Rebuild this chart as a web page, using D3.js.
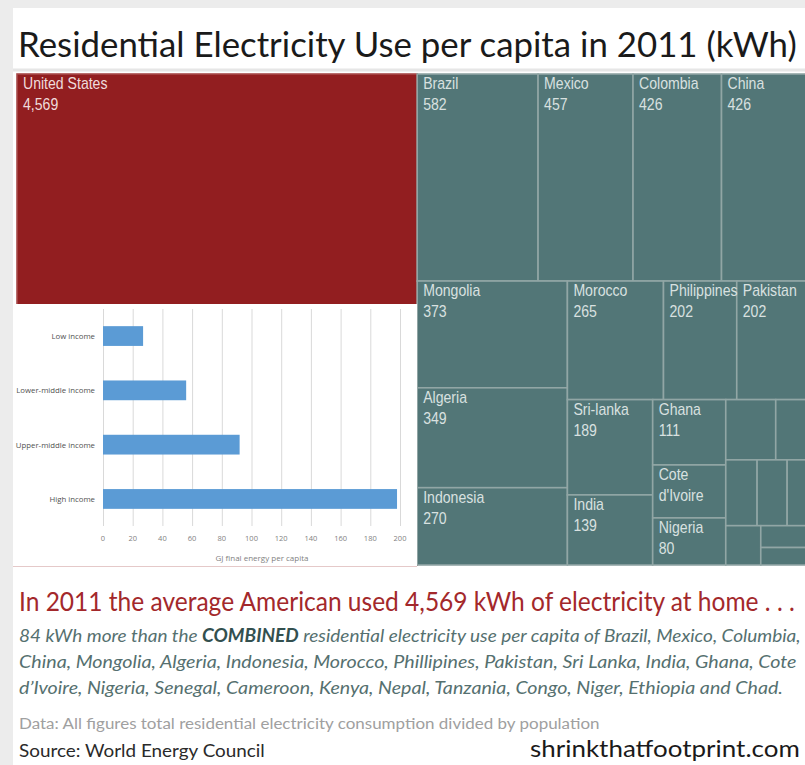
<!DOCTYPE html>
<html><head><meta charset="utf-8">
<script src="https://cdn.jsdelivr.net/npm/d3@7"></script>
<style>body{margin:0;background:#ececec;overflow:hidden}</style>
</head><body>
<svg id="c" width="805" height="765"></svg>
<script>
// ---------- data ----------
const title = "Residential Electricity Use per capita in 2011 (kWh)";
const countries = ["United States","Brazil","Mexico","Colombia","China","Mongolia","Algeria","Indonesia",
  "Morocco","Philippines","Pakistan","Sri-lanka","India","Ghana","Cote d'Ivoire","Nigeria",
  "Senegal","Cameroon","Kenya","Nepal","Tanzania","Chad","Congo","Niger","Ethiopia"];
const kwh = [4569,582,457,426,426,373,349,270,265,202,202,189,139,111,90,80,70,48,48,46,32,3,32,25,20];
const labelledCountries = countries.slice(0, 16);
// grouping of the treemap cells: "x" = side by side, "y" = stacked
const tiling = ["x", "United States",
  ["y", ["x","Brazil","Mexico","Colombia","China"],
        ["x", ["y","Mongolia","Algeria","Indonesia"],
              ["y", ["x","Morocco","Philippines","Pakistan"],
                    ["x", ["y","Sri-lanka","India"],
                          ["y","Ghana","Cote d'Ivoire","Nigeria"],
                          ["y", ["x","Senegal","Cameroon"],
                                ["x","Kenya","Nepal","Tanzania","Chad"],
                                ["x","Congo",["y","Niger","Ethiopia"]]]]]]]];

const incomeGroups = ["Low income","Lower-middle income","Upper-middle income","High income"];
const gjPerCapita = [27,56,92,198];
const gjTicks = [0,20,40,60,80,100,120,140,160,180,200];
const gjAxisTitle = "GJ final energy per capita";

const headline = "In 2011 the average American used 4,569 kWh of electricity at home . . .";
const para1a = "84 kWh more than the ", para1b = "COMBINED", para1c = " residential electricity use per capita of Brazil, Mexico, Columbia,";
const para2 = "China, Mongolia, Algeria, Indonesia, Morocco, Phillipines, Pakistan, Sri Lanka, India, Ghana, Cote";
const para3 = "d\u2019Ivoire, Nigeria, Senegal, Cameroon, Kenya, Nepal, Tanzania, Congo, Niger, Ethiopia and Chad.";
const dataNote = "Data: All figures total residential electricity consumption divided by population";
const source = "Source: World Energy Council";
const site = "shrinkthatfootprint.com";

// ---------- drawing ----------
const svg = d3.select("#c");
const font = "'Liberation Sans Narrow','Lato','Open Sans',sans-serif";
svg.append("rect").attr("width",805).attr("height",765).attr("fill","#ececec");
svg.append("rect").attr("x",13).attr("y",8).attr("width",792).attr("height",757).attr("fill","#ffffff");
svg.append("line").attr("x1",13).attr("x2",805).attr("y1",70).attr("y2",70).attr("stroke","#e6e6e6").attr("stroke-width",3);

// text fitted to a target width by horizontal scaling
function fitText(x, y, target, size, fill, style, build){
  const g = svg.append("g");
  const t = g.append("text").attr("x",0).attr("y",0).attr("font-family",font).attr("font-size",size)
    .attr("fill",fill).attr("font-style",style || "normal");
  build(t);
  const nat = t.node().getComputedTextLength();
  g.attr("transform",`translate(${x},${y}) scale(${target/nat},1)`);
  return g;
}

fitText(18, 57, 779, 34, "#1a1a1a", null, t => t.text(title));

// treemap
const valueOf = new Map(countries.map((c,i)=>[c,kwh[i]]));
function toNode(t){
  if (typeof t === "string") return {name:t, value:valueOf.get(t)};
  return {dir:t[0], children:t.slice(1).map(toNode)};
}
const root = d3.hierarchy(toNode(tiling)).sum(d => d.value || 0);
d3.treemap().size([793,491])
  .tile((node,x0,y0,x1,y1) => (node.data.dir === "x" ? d3.treemapDice : d3.treemapSlice)(node,x0,y0,x1,y1))(root);

const tm = svg.append("g").attr("transform","translate(17,74)");
const leaves = root.leaves();
tm.selectAll("rect").data(leaves).join("rect")
  .attr("x",d=>d.x0).attr("y",d=>d.y0).attr("width",d=>d.x1-d.x0).attr("height",d=>d.y1-d.y0)
  .attr("fill",d=>d.data.name==="United States" ? "#921e20" : "#527677")
  .attr("stroke",d=>d.data.name==="United States" ? "#a84a4a" : "#91a6a5").attr("stroke-width",1.6);

const sx = 0.88, fs = 16;
const measure = svg.append("text").attr("font-family","'Liberation Sans',Arial,sans-serif").attr("font-size",fs).attr("visibility","hidden");
function textW(s){ measure.text(s); return measure.node().getComputedTextLength()*sx; }
leaves.filter(d => labelledCountries.includes(d.data.name)).forEach(d => {
  const w = d.x1 - d.x0 - 8, h = d.y1 - d.y0;
  const words = d.data.name.split(" ");
  const lines = [];
  let cur = "";
  words.forEach(wd => {
    const t = cur ? cur + " " + wd : wd;
    if (cur && textW(t) > w) { lines.push(cur); cur = wd; } else cur = t;
  });
  lines.push(cur);
  lines.push(d3.format(",")(d.data.value));
  const g = tm.append("g").attr("transform",`translate(${d.x0+6},${d.y0}) scale(${sx},1)`);
  lines.forEach((ln,i) => {
    const base = 15 + i*21;
    if (base + 4 > h) return;
    g.append("text").attr("x",0).attr("y",base).attr("font-family","'Liberation Sans',Arial,sans-serif")
      .attr("font-size",fs).attr("fill", d.data.name==="United States" ? "#efdcdc" : "#d9e1e0").text(ln);
  });
});
measure.remove();

// bar chart inset
svg.append("rect").attr("x",13).attr("y",304).attr("width",404).attr("height",262).attr("fill","#ffffff");
svg.append("line").attr("x1",13).attr("x2",417).attr("y1",566.5).attr("y2",566.5).attr("stroke","#e5c9c9").attr("stroke-width",1);
const xs = d3.scaleLinear().domain([0,200]).range([103,400]);
const ys = d3.scaleBand().domain(incomeGroups).range([309,526]).paddingInner(0.636).paddingOuter(0.316);
const bc = svg.append("g");
bc.selectAll("line.grid").data(gjTicks).join("line").attr("class","grid")
  .attr("x1",d=>xs(d)+0.5).attr("x2",d=>xs(d)+0.5).attr("y1",309).attr("y2",526)
  .attr("stroke","#d9d9d9").attr("stroke-width",1);
bc.selectAll("rect").data(incomeGroups).join("rect")
  .attr("x",xs(0)).attr("y",d=>ys(d)).attr("height",ys.bandwidth())
  .attr("width",(d,i)=>xs(gjPerCapita[i])-xs(0)).attr("fill","#5b9bd5");
const barFont = "'Open Sans','Liberation Sans',sans-serif";
bc.selectAll("text.cat").data(incomeGroups).join("text").attr("class","cat")
  .attr("x",95).attr("y",d=>ys(d)+ys.bandwidth()/2+3).attr("text-anchor","end")
  .attr("font-family",barFont).attr("font-size",7.8).attr("fill","#505050").text(d=>d);
bc.selectAll("text.tick").data(gjTicks).join("text").attr("class","tick")
  .attr("x",d=>xs(d)).attr("y",541).attr("text-anchor","middle")
  .attr("font-family",barFont).attr("font-size",7.5).attr("fill","#7f7f7f").text(d=>d);
bc.append("text").attr("x",262).attr("y",561).attr("text-anchor","middle")
  .attr("font-family",barFont).attr("font-size",8).attr("fill","#7f7f7f").text(gjAxisTitle);

// bottom texts
fitText(19, 611, 776, 26, "#a3282b", null, t => t.text(headline));
fitText(19, 642, 782, 18, "#55706f", "italic", t => {
  t.append("tspan").text(para1a);
  t.append("tspan").attr("font-weight","bold").attr("fill","#33504f").text(para1b);
  t.append("tspan").text(para1c);
});
fitText(19, 668, 778, 18, "#55706f", "italic", t => t.text(para2));
fitText(19, 694, 764, 18, "#55706f", "italic", t => t.text(para3));
fitText(19, 729, 581, 16, "#a0a0a0", null, t => t.text(dataNote));
fitText(19, 757, 246, 18, "#2a2a2a", null, t => t.text(source));
fitText(530, 757, 270, 23, "#1a1a1a", null, t => t.text(site));
</script>
</body></html>
